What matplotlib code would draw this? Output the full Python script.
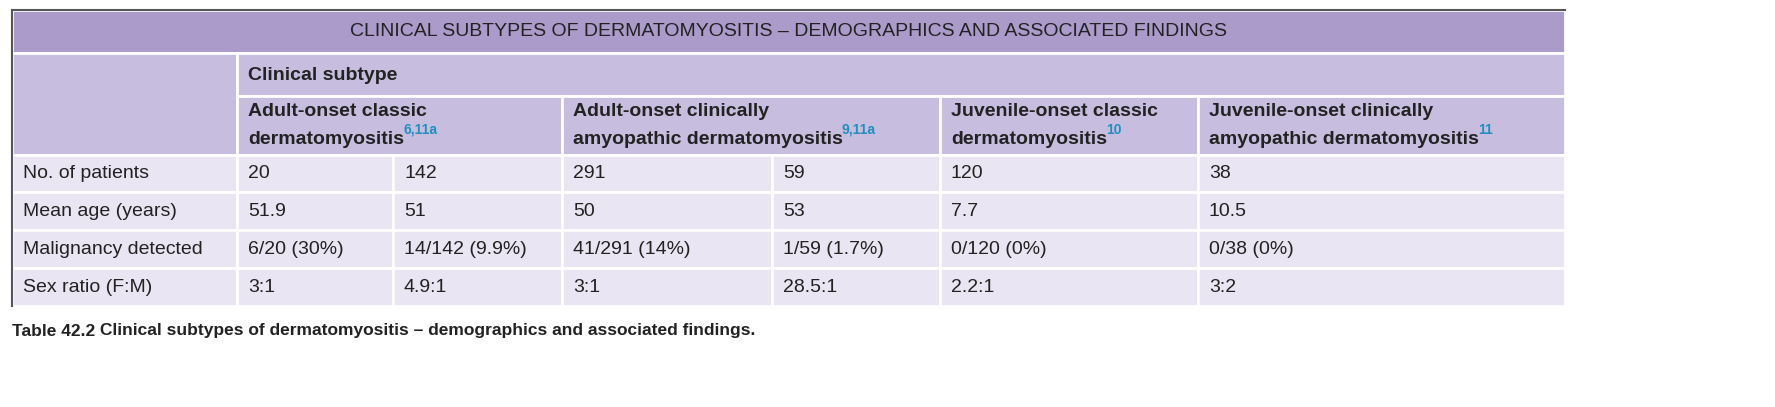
import matplotlib.pyplot as plt
from matplotlib.patches import Rectangle

title = "CLINICAL SUBTYPES OF DERMATOMYOSITIS – DEMOGRAPHICS AND ASSOCIATED FINDINGS"
group_label = "Clinical subtype"
subtypes = [("Adult-onset classic\ndermatomyositis", "6,11a"),
            ("Adult-onset clinically\namyopathic dermatomyositis", "9,11a"),
            ("Juvenile-onset classic\ndermatomyositis", "10"),
            ("Juvenile-onset clinically\namyopathic dermatomyositis", "11")]
row_labels = ["No. of patients", "Mean age (years)", "Malignancy detected", "Sex ratio (F:M)"]
cells = [["20", "142", "291", "59", "120", "38"],
         ["51.9", "51", "50", "53", "7.7", "10.5"],
         ["6/20 (30%)", "14/142 (9.9%)", "41/291 (14%)", "1/59 (1.7%)", "0/120 (0%)", "0/38 (0%)"],
         ["3:1", "4.9:1", "3:1", "28.5:1", "2.2:1", "3:2"]]
caption_bold = "Table 42.2"
caption = " Clinical subtypes of dermatomyositis – demographics and associated findings."

col_x = [12, 237, 393, 562, 772, 940, 1198, 1565]
sub_spans = [(1, 3), (3, 5), (5, 6), (6, 7)]
row_y = [155, 192, 230, 268, 306]

C_TITLE = "#ab9bca"
C_HEAD = "#c7bedf"
C_BODY = "#e9e5f2"
C_SUP = "#1f8fc0"
FS = 14
plt.rcParams['font.family'] = ['Liberation Sans', 'DejaVu Sans']

fig = plt.figure(figsize=(17.75, 4.07), dpi=100)
ax = fig.add_axes([0, 0, 1, 1])
ax.set_xlim(0, 1775)
ax.set_ylim(407, 0)
ax.axis('off')

def box(x0, y0, x1, y1, c):
    ax.add_patch(Rectangle((x0, y0), x1 - x0, y1 - y0, facecolor=c, edgecolor='white', lw=2))

box(col_x[0], 10, col_x[-1], 53, C_TITLE)
ax.text((col_x[0] + col_x[-1]) / 2, 32, title, ha='center', va='center', fontsize=FS, color='#222222')
box(col_x[0], 53, col_x[1], 155, C_HEAD)
box(col_x[1], 53, col_x[-1], 96, C_HEAD)
ax.text(col_x[1] + 11, 75, group_label, ha='left', va='center', fontsize=FS, weight='bold', color='#222222')

fig.canvas.draw()
r = fig.canvas.get_renderer()
for (a, b), (txt, sup) in zip(sub_spans, subtypes):
    box(col_x[a], 96, col_x[b], 155, C_HEAD)
    t1, t2 = txt.split("\n")
    ax.text(col_x[a] + 11, 111, t1, ha='left', va='center', fontsize=FS, weight='bold', color='#222222')
    t = ax.text(col_x[a] + 11, 140, t2, ha='left', va='center', fontsize=FS, weight='bold', color='#222222')
    bb = t.get_window_extent(r)
    ax.text(bb.x1 - 1, 130, sup, ha='left', va='center', fontsize=10, weight='bold', color=C_SUP)

for i, lab in enumerate(row_labels):
    y0, y1 = row_y[i], row_y[i + 1]
    box(col_x[0], y0, col_x[1], y1, C_BODY)
    ax.text(col_x[0] + 11, (y0 + y1) / 2, lab, ha='left', va='center', fontsize=FS, color='#222222')
    for j, v in enumerate(cells[i]):
        box(col_x[j + 1], y0, col_x[j + 2], y1, C_BODY)
        ax.text(col_x[j + 1] + 11, (y0 + y1) / 2, v, ha='left', va='center', fontsize=FS, color='#222222')

ax.plot([col_x[0], col_x[0]], [10, 306], color='#555555', lw=1.5)
ax.plot([col_x[0], col_x[-1]], [10, 10], color='#555555', lw=1.5)

cb = ax.text(col_x[0], 331, caption_bold, ha='left', va='center', fontsize=12.5, weight='bold', color='#222222')
fig.canvas.draw()
bb = cb.get_window_extent(r)
ax.text(bb.x1, 331, caption, ha='left', va='center', fontsize=12.5, weight='bold', color='#222222')

fig.savefig("out.png", dpi=100)
